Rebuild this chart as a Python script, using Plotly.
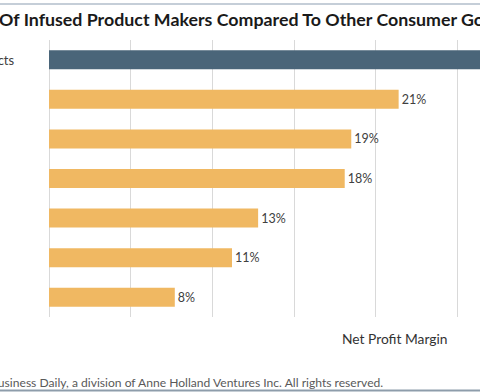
import plotly.graph_objects as go

categories = ["Infused Products", "Tobacco", "Soft Drinks", "Spirits", "Household", "Food", "Grocery"]
margins = [29.0, 21.4, 18.5, 18.1, 12.8, 11.2, 7.7]
labels = ["", "21%", "19%", "18%", "13%", "11%", "8%"]
colors = ["#4a6579", "#f0b862", "#f0b862", "#f0b862", "#f0b862", "#f0b862", "#f0b862"]
title_text = "Of Infused Product Makers Compared To Other Consumer Goods Industries"
source_text = "© 2019 Marijuana Business Daily, a division of Anne Holland Ventures Inc. All rights reserved."
axis_title = "Net Profit Margin"

W, H = 480, 392
L, R, T, B = 49, 0, 40, 75
pw, ph = W - L - R, H - T - B

def px(x):
    return (x - L) / pw

def py(y):
    return (H - B - y) / ph

FONT = "Lato, 'Open Sans', sans-serif"

fig = go.Figure(go.Bar(
    y=categories, x=margins, orientation="h",
    marker=dict(color=colors, line=dict(width=0)),
    text=labels, textposition="outside", cliponaxis=True,
    textfont=dict(family=FONT, size=12.5, color="#404040"),
    width=0.48,
))

annotations = []
for c in categories:
    annotations.append(dict(x=px(-84), y=c, xref="paper", yref="y", text=c,
                            showarrow=False, xanchor="left", yanchor="middle",
                            font=dict(family=FONT, size=13, color="#404040")))
annotations += [
    dict(x=px(597), y=py(18.5), xref="paper", yref="paper", text="<b>" + title_text + "</b>",
         showarrow=False, xanchor="right", yanchor="middle",
         font=dict(family=FONT, size=17.8, color="#1a1a1a")),
    dict(x=px(394), y=py(338), xref="paper", yref="paper", text=axis_title,
         showarrow=False, xanchor="center", yanchor="middle",
         font=dict(family=FONT, size=13.8, color="#333333")),
    dict(x=px(385), y=py(382), xref="paper", yref="paper", text=source_text,
         showarrow=False, xanchor="right", yanchor="middle",
         font=dict(family=FONT, size=12.1, color="#595959")),
]

shapes = [
    dict(type="line", xref="paper", yref="paper", x0=px(-10), x1=px(490), y0=py(4), y1=py(4),
         line=dict(color="#c5ced8", width=2)),
    dict(type="line", xref="paper", yref="paper", x0=px(-10), x1=px(490), y0=py(390.5), y1=py(390.5),
         line=dict(color="#8e9dab", width=2)),
]

fig.update_layout(
    width=W, height=H,
    margin=dict(l=L, r=R, t=T, b=B, pad=0),
    paper_bgcolor="white", plot_bgcolor="white",
    showlegend=False,
    bargap=0.52,
    xaxis=dict(range=[0, 26.38], dtick=5, tick0=0, showgrid=True, gridcolor="#d9d9d9",
               gridwidth=1, zeroline=True, zerolinecolor="#d9d9d9", zerolinewidth=1,
               showticklabels=False, ticks="", showline=False, fixedrange=True),
    yaxis=dict(categoryorder="array", categoryarray=categories[::-1],
               showticklabels=False, ticks="", showgrid=False, showline=False, zeroline=False),
    annotations=annotations,
    shapes=shapes,
)

fig.write_html("out.html", config={"displayModeBar": False},
               post_script="document.body.style.margin='0';document.body.style.overflow='hidden';")
